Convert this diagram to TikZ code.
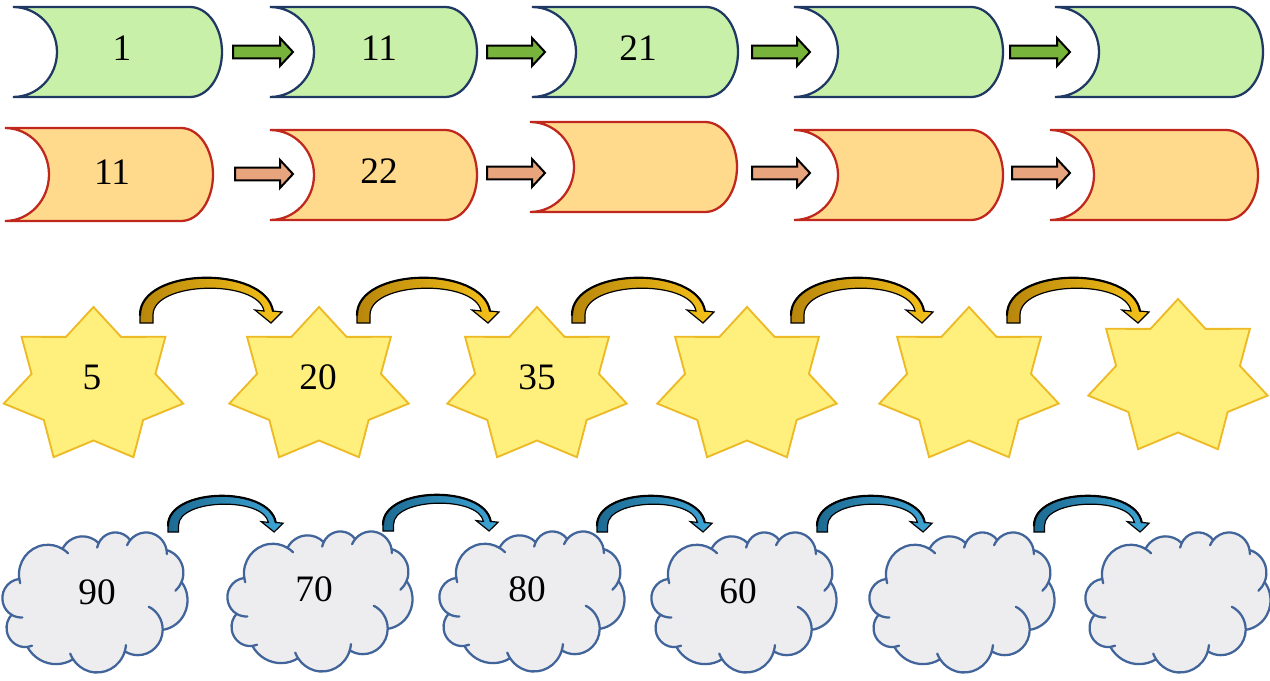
\documentclass[tikz,border=0pt]{standalone}
\usepackage{fontspec}
\setmainfont{Liberation Serif}
\usetikzlibrary{calc}
\definecolor{gfill}{HTML}{C9F0A8}
\definecolor{gline}{HTML}{1F3864}
\definecolor{ofill}{HTML}{FFD98C}
\definecolor{oline}{HTML}{C0281E}
\definecolor{garrow}{HTML}{78B43C}
\definecolor{oarrow}{HTML}{E8A47C}
\definecolor{sfill}{HTML}{FFF07E}
\definecolor{sline}{HTML}{EDBA26}
\definecolor{cfill}{HTML}{EDEDEF}
\definecolor{cline}{HTML}{41659A}
\definecolor{goldA}{HTML}{B8860B}
\definecolor{goldB}{HTML}{F6C21A}
\definecolor{blueA}{HTML}{1C6A92}
\definecolor{blueB}{HTML}{3EA6D6}
\tikzset{
  num/.style={font=\fontsize{28}{30}\selectfont, inner sep=0pt},
  anchornode/.style={inner sep=0pt, outer sep=0pt, draw=none},
  gdoc/.style={fill=gfill, draw=gline, line width=1.7pt},
  odoc/.style={fill=ofill, draw=oline, line width=1.7pt},
  garr/.style={fill=garrow, draw=black, line width=1.5pt, line join=miter},
  oarr/.style={fill=oarrow, draw=black, line width=1.5pt, line join=miter},
  starsty/.style={fill=sfill, draw=sline, line width=1.4pt, line join=miter},
  cloudsty/.style={fill=cfill, draw=cline, line width=1.7pt, line join=round},
  cloudin/.style={draw=cline, line width=1.7pt, line cap=round},
  goldcurve/.style={left color=goldA, right color=goldB, draw=black, line width=0.9pt},
  bluecurve/.style={left color=blueA, right color=blueB, draw=black, line width=0.9pt},
}
\newcommand\docshape[6]{%
  \node[anchornode, minimum width={(#3-#2)*0.75pt}, minimum height={(#5-#4)*0.75pt}] (#1) at ({(#2+#3)/2},{(#4+#5)/2}) {};
  \draw[#6] (#1.north west) -- ([xshift=-24pt]#1.north east)
     arc[start angle=90, end angle=-90, x radius=24pt, y radius={(#5-#4)*0.375pt}]
     -- (#1.south west)
     arc[start angle=-90, end angle=90, x radius=33pt, y radius={(#5-#4)*0.375pt}]
     -- cycle;
}
\newcommand\blkarrow[3]{%
  \draw[#1] let \p1=#2, \p2=#3 in
    (\x1,{\y2+4.8pt}) -- ({\x2-9.75pt},{\y2+4.8pt}) -- ({\x2-9.75pt},{\y2+10.5pt}) -- (\x2,\y2)
    -- ({\x2-9.75pt},{\y2-10.5pt}) -- ({\x2-9.75pt},{\y2-4.8pt}) -- (\x1,{\y2-4.8pt}) -- cycle;
}
\newcommand\starat[3]{%
  \node[anchornode, minimum size=1pt] (#1) at (#2,#3) {};
  \draw[starsty, shift={(#2,#3)}] plot[samples at={0,...,13}, variable=\j]
      ({(mod(\j,2)==0 ? 92 : 63.5)*cos(90+\j*180/7)}, {-(mod(\j,2)==0 ? 79 : 54.5)*sin(90+\j*180/7)}) -- cycle;
}
\newcommand\curvarrow[4]{%
  \draw[shift={(#1)}, xscale=#2, yscale=#3, #4] (0,0) -- (0,-8)
     .. controls (0,-56) and (125,-58) .. (133,-12) -- (142,-11) -- (131,0) -- (115,-13) -- (124,-12)
     .. controls (118,-44) and (13,-42) .. (13,-8) -- (13,0) -- cycle;
  \draw[shift={(#1)}, xscale=#2, yscale=#3, line width=1.6pt, line cap=round]
     (0,-8) .. controls (0,-56) and (125,-58) .. (133,-12);
}
\newcommand\cin[6]{%
  \draw[cloudin] ({#1+#3*cos(#5)},{#2+#4*sin(#5)}) arc[start angle=#5, end angle=#6, x radius=#3, y radius=#4];
}
\newcommand\cloudat[3]{%
  \node[anchornode, minimum size=1pt] (#1) at (#2,#3) {};
  \begin{scope}[shift={(#2-92.5,#3-70)}, x=0.32118pt, y=-0.24306pt]
    \draw[cloudsty] (39,143.7)
      arc[start angle=-187.75, end angle=-59.64, x radius=67.53, y radius=91.90]
      arc[start angle=-152.02, end angle=-45.47, x radius=53.33, y radius=72.67]
      arc[start angle=-153.49, end angle=-37.33, x radius=43.65, y radius=59.45]
      arc[start angle=-139.72, end angle=-10.22, x radius=48.57, y radius=65.95]
      arc[start angle=-74.76, end angle=23.21, x radius=53.33, y radius=72.73]
      arc[start angle=-37.53, end angle=81.86, x radius=67.75, y radius=92.20]
      arc[start angle=0.46, end angle=121.98, x radius=57.85, y radius=78.67]
      arc[start angle=16.84, end angle=146.22, x radius=67.52, y radius=92.15]
      arc[start angle=59.01, end angle=150.16, x radius=77.20, y radius=105.43]
      arc[start angle=-276.70, end angle=-136.89, x radius=43.60, y radius=59.18]
      arc[start angle=-239.62, end angle=-95.89, x radius=43.45, y radius=59.45]
      -- cycle;
    \cin{43.16}{204.19}{43.45}{59.45}{85.54}{120.38}
    \cin{53.02}{295.93}{43.60}{59.18}{68.24}{83.30}
    \cin{220.93}{341.38}{67.52}{92.15}{146.22}{158.47}
    \cin{220.93}{341.38}{67.52}{92.15}{4.74}{16.84}
    \cin{316.19}{301.35}{57.85}{78.67}{-64.01}{-1.62}
    \cin{369.15}{125.88}{53.33}{72.73}{23.21}{49.65}
    \cin{335.36}{67.41}{48.57}{65.95}{-10.22}{0.82}
    \cin{335.36}{67.41}{48.57}{65.95}{-156.28}{-139.72}
    \cin{263.61}{60.82}{43.65}{59.45}{-167.72}{-153.49}
    \cin{105.92}{131.30}{67.53}{91.90}{-59.64}{-45.74}
    \cin{105.92}{131.30}{67.53}{91.90}{163.18}{172.25}
  \end{scope}
}
\begin{document}
\begin{tikzpicture}[x=0.75pt, y=-0.75pt]
\fill[white] (0,0) rectangle (1270,681);
\useasboundingbox (0,0) rectangle (1270,681);
% row 1 (green)
\docshape{g1}{13}{222}{7}{97}{gdoc}
\docshape{g2}{270}{477}{7}{97}{gdoc}
\docshape{g3}{532}{738}{7}{97}{gdoc}
\docshape{g4}{794}{1003}{7}{97}{gdoc}
\docshape{g5}{1055}{1263}{7}{97}{gdoc}
\node[num] (tg1) at (122,48) {1};
\node[num] (tg2) at (379,48) {11};
\node[num] (tg3) at (638,48) {21};
\blkarrow{garr}{($(g1.east)+(11,0)$)}{($(g2.west)+(23,0)$)}
\blkarrow{garr}{($(g2.east)+(10,0)$)}{($(g3.west)+(13,0)$)}
\blkarrow{garr}{($(g3.east)+(14,0)$)}{($(g4.west)+(16,0)$)}
\blkarrow{garr}{($(g4.east)+(7,0)$)}{($(g5.west)+(15,0)$)}
% row 2 (orange)
\docshape{o1}{5}{213}{128}{221}{odoc}
\docshape{o2}{270}{477}{130}{220}{odoc}
\docshape{o3}{530}{737}{122}{212}{odoc}
\docshape{o4}{794}{1003}{130}{220}{odoc}
\docshape{o5}{1050}{1258}{130}{220}{odoc}
\node[num] (to1) at (112,172) {11};
\node[num] (to2) at (379,171) {22};
\blkarrow{oarr}{($(o1.east)+(22,0)$)}{($(o2.west)+(23,-1)$)}
\blkarrow{oarr}{($(o2.east)+(10,0)$)}{($(o3.west)+(15,6)$)}
\blkarrow{oarr}{($(o3.east)+(15,0)$)}{($(o4.west)+(16,-2)$)}
\blkarrow{oarr}{($(o4.east)+(9,0)$)}{($(o5.west)+(20,-2)$)}
% row 3 (stars)
\starat{s1}{93.5}{386}
\starat{s2}{319}{386}
\starat{s3}{537}{386}
\starat{s4}{747}{386}
\starat{s5}{969}{386}
\starat{s6}{1178}{378}
\node[num] (ts1) at (92,377) {5};
\node[num] (ts2) at (318,377) {20};
\node[num] (ts3) at (537,377) {35};
\coordinate (ga1) at (140,323);
\coordinate (ga2) at (357,323);
\coordinate (ga3) at (572,323);
\coordinate (ga4) at (791,323);
\coordinate (ga5) at (1007,323);
\curvarrow{ga1}{1}{1}{goldcurve}
\curvarrow{ga2}{1}{1}{goldcurve}
\curvarrow{ga3}{1}{1}{goldcurve}
\curvarrow{ga4}{1}{1}{goldcurve}
\curvarrow{ga5}{1}{1}{goldcurve}
% row 4 (clouds)
\cloudat{c1}{95}{602}
\cloudat{c2}{320}{601}
\cloudat{c3}{532}{601}
\cloudat{c4}{744}{602}
\cloudat{c5}{962}{602}
\cloudat{c6}{1178}{602}
\node[num] (tc1) at (97,592) {90};
\node[num] (tc2) at (314,589) {70};
\node[num] (tc3) at (527,589) {80};
\node[num] (tc4) at (738,591) {60};
\coordinate (ba1) at (168,532);
\coordinate (ba2) at (383,531);
\coordinate (ba3) at (597,532);
\coordinate (ba4) at (817,532);
\coordinate (ba5) at (1034,532);
\curvarrow{ba1}{0.81}{0.8}{bluecurve}
\curvarrow{ba2}{0.81}{0.8}{bluecurve}
\curvarrow{ba3}{0.81}{0.8}{bluecurve}
\curvarrow{ba4}{0.81}{0.8}{bluecurve}
\curvarrow{ba5}{0.81}{0.8}{bluecurve}
\end{tikzpicture}
\end{document}
